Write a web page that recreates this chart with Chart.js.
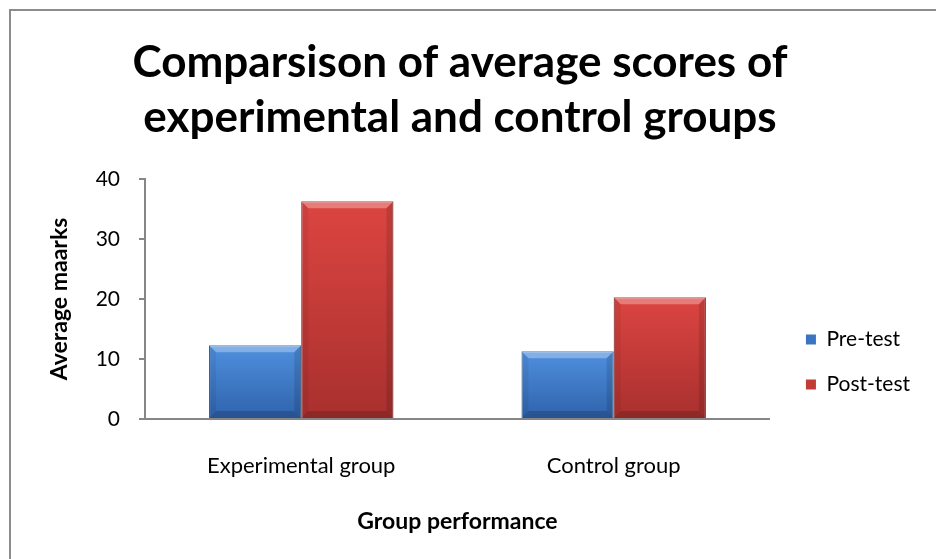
<!DOCTYPE html>
<html>
<head>
<meta charset="utf-8">
<script src="https://cdn.jsdelivr.net/npm/chart.js@4.4.0/dist/chart.umd.min.js"></script>
<style>
  html, body { margin: 0; padding: 0; background: #fff; overflow: hidden; }
  .frame { position: absolute; left: 9px; top: 9px; width: 960px; height: 600px; border: 2px solid #8c8c8c; }
  .wrap { position: absolute; left: 0; top: 0; width: 936px; height: 559px; }
</style>
</head>
<body>
<div class="frame"></div>
<div class="wrap"><canvas id="myChart" width="936" height="559"></canvas></div>
<script>
// data
const groups = ["Experimental group", "Control group"];
const preTest = [12.3, 11.3];
const postTest = [36.3, 20.3];
const yTicks = [0, 10, 20, 30, 40];

const FONT = "Lato, 'Open Sans', sans-serif";

// colours for each series: top / bottom of the bar, legend swatch
const blue = { top: "#4f90de", bottom: "#2f62ab", solid: "#3b74c2", edge: "#2a568f" };
const red = { top: "#dc4541", bottom: "#a8302e", solid: "#c23b37", edge: "#7e2422" };

function barGradient(c) {
    return function (ctx) {
        const chart = ctx.chart;
        const y = chart.scales.y;
        if (!y || ctx.raw == null) return c.solid;
        const top = y.getPixelForValue(ctx.raw);
        const base = y.getPixelForValue(0);
        if (!isFinite(top) || !isFinite(base) || top === base) return c.solid;
        const g = chart.ctx.createLinearGradient(0, top, 0, base);
        g.addColorStop(0, c.top);
        g.addColorStop(1, c.bottom);
        return g;
    };
}

// little bevel on every bar, like the office chart style
const bevel = {
    id: "bevel",
    afterDatasetsDraw(chart) {
        const ctx = chart.ctx;
        chart.data.datasets.forEach((ds, i) => {
            chart.getDatasetMeta(i).data.forEach(bar => {
                const l = bar.x - bar.width / 2, r = bar.x + bar.width / 2;
                const t = bar.y, b = bar.base, d = 7;
                ctx.save();
                ctx.fillStyle = "rgba(255,255,255,0.30)";
                ctx.beginPath();
                ctx.moveTo(l, t); ctx.lineTo(r, t); ctx.lineTo(r - d, t + d); ctx.lineTo(l + d, t + d);
                ctx.closePath(); ctx.fill();
                ctx.fillStyle = "rgba(0,0,0,0.16)";
                ctx.beginPath();
                ctx.moveTo(l, b); ctx.lineTo(r, b); ctx.lineTo(r - d, b - d); ctx.lineTo(l + d, b - d);
                ctx.closePath(); ctx.fill();
                ctx.fillStyle = "rgba(0,0,0,0.06)";
                ctx.beginPath();
                ctx.moveTo(l, t); ctx.lineTo(l + d, t + d); ctx.lineTo(l + d, b - d); ctx.lineTo(l, b);
                ctx.closePath(); ctx.fill();
                ctx.fillStyle = "rgba(0,0,0,0.12)";
                ctx.beginPath();
                ctx.moveTo(r, t); ctx.lineTo(r - d, t + d); ctx.lineTo(r - d, b - d); ctx.lineTo(r, b);
                ctx.closePath(); ctx.fill();
                ctx.restore();
            });
        });
    }
};

// empty layout box that keeps a gap between the plot and the legend
const legendGap = {
    id: "legendGap",
    beforeInit(chart) {
        Chart.layouts.addBox(chart, {
            position: "right",
            weight: 500,
            fullSize: false,
            options: {},
            isHorizontal() { return false; },
            getPadding() { return { top: 0, left: 0, right: 0, bottom: 0 }; },
            update(maxWidth, maxHeight) { this.width = 12; this.height = maxHeight; },
            draw() {}
        });
    }
};

const ctx = document.getElementById("myChart").getContext("2d");
new Chart(ctx, {
    type: "bar",
    data: {
        labels: groups,
        datasets: [
            { label: "Pre-test", data: preTest, backgroundColor: barGradient(blue), borderColor: blue.edge, borderWidth: 1, solid: blue.solid },
            { label: "Post-test", data: postTest, backgroundColor: barGradient(red), borderColor: red.edge, borderWidth: 1, solid: red.solid }
        ]
    },
    plugins: [bevel, legendGap],
    options: {
        responsive: false,
        animation: false,
        layout: { padding: { left: 0, right: 16, top: 0, bottom: 20 } },
        datasets: { bar: { categoryPercentage: 0.59, barPercentage: 1.0 } },
        plugins: {
            title: {
                display: true,
                text: ["Comparsison of average scores of", "experimental and control groups"],
                color: "#000",
                font: { family: FONT, size: 44, weight: "bold", lineHeight: 1.25 },
                padding: { top: 35, bottom: 34 }
            },
            legend: {
                position: "right",
                align: "end",
                fullSize: false,
                labels: {
                    color: "#000",
                    font: { family: FONT, size: 21 },
                    boxWidth: 10,
                    boxHeight: 10,
                    padding: 24,
                    generateLabels(chart) {
                        return chart.data.datasets.map((ds, i) => ({
                            text: ds.label,
                            fillStyle: ds.solid,
                            strokeStyle: ds.solid,
                            lineWidth: 0,
                            datasetIndex: i,
                            hidden: false,
                            fontColor: "#000"
                        }));
                    }
                }
            },
            tooltip: { enabled: false }
        },
        scales: {
            x: {
                afterFit(scale) { scale.height = 120; },
                grid: { display: false, tickLength: 8 },
                border: { display: true, color: "#868686", width: 2 },
                ticks: { color: "#000", font: { family: FONT, size: 22 }, padding: 26 },
                title: {
                    display: true,
                    text: "Group performance",
                    color: "#000",
                    font: { family: FONT, size: 23, weight: "bold" },
                    padding: { top: 0, bottom: 4 }
                }
            },
            y: {
                min: 0,
                max: 40,
                afterFit(scale) { scale.width = 145; },
                afterBuildTicks(scale) { scale.ticks = yTicks.map(v => ({ value: v })); },
                grid: { display: true, drawOnChartArea: false, drawTicks: true, tickLength: 6, color: "#868686", lineWidth: 2 },
                border: { display: true, color: "#868686", width: 2 },
                ticks: { color: "#000", font: { family: FONT, size: 21 }, padding: 19 },
                title: {
                    display: true,
                    text: "Average maarks",
                    color: "#000",
                    font: { family: FONT, size: 23, weight: "bold" },
                    padding: { top: 46, bottom: 0 }
                }
            }
        }
    }
});
</script>
</body>
</html>
